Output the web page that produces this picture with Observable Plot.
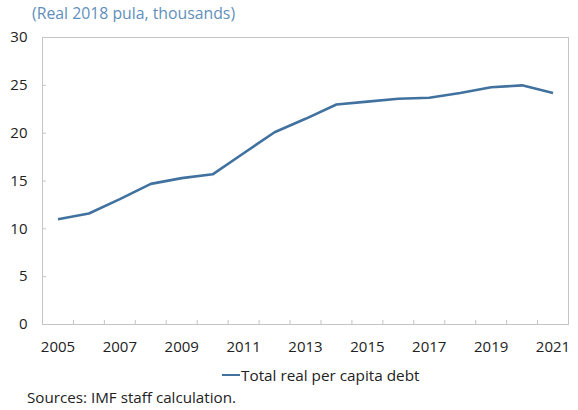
<!DOCTYPE html>
<html>
<head>
<meta charset="utf-8">
<script src="https://cdn.jsdelivr.net/npm/d3@7"></script>
<script src="https://cdn.jsdelivr.net/npm/@observablehq/plot@0.6"></script>
<style>
  body { margin: 0; background: #fff; font-family: "Open Sans", "Noto Sans", sans-serif; width: 578px; height: 410px; position: relative; overflow: hidden; }
  #subtitle { position: absolute; left: 32px; top: 2px; font-size: 15.8px; color: #5f8fbc; white-space: nowrap; }
  #chart { position: absolute; left: 0; top: 22px; }
  #legend { position: absolute; left: 222px; top: 365px; font-size: 15.3px; color: #222; display: flex; align-items: center; white-space: nowrap; }
  #legend .swatch { width: 18px; height: 2.5px; background: #41729f; margin-right: 1px; }
  #caption { position: absolute; left: 27px; top: 387px; font-size: 15.2px; color: #222; white-space: nowrap; }
</style>
</head>
<body>
<div id="subtitle">(Real 2018 pula, thousands)</div>
<div id="chart"></div>
<div id="legend"><span class="swatch"></span><span>Total real per capita debt</span></div>
<div id="caption">Sources: IMF staff calculation.</div>
<script>
const years = [2005, 2006, 2007, 2008, 2009, 2010, 2011, 2012, 2013, 2014, 2015, 2016, 2017, 2018, 2019, 2020, 2021];
const debt = [11.0, 11.6, 13.1, 14.7, 15.3, 15.7, 17.9, 20.1, 21.5, 23.0, 23.3, 23.6, 23.7, 24.2, 24.8, 25.0, 24.2];
const seriesName = "Total real per capita debt";
const xTickLabels = [2005, 2007, 2009, 2011, 2013, 2015, 2017, 2019, 2021];
const yTicks = [0, 5, 10, 15, 20, 25, 30];
const bandEdges = d3.range(years[0] - 0.5, years[years.length - 1] + 1, 1);

const data = years.map((y, i) => ({year: y, value: debt[i], series: seriesName}));

const W = 578, H = 340;
const mL = 42, mR = 10, mT = 15, mB = 38;
const frameW = W - mL - mR, frameH = H - mT - mB;
const gray = "#c4c4c4";

const chart = Plot.plot({
  width: W,
  height: H,
  marginLeft: mL,
  marginRight: mR,
  marginTop: mT,
  marginBottom: mB,
  style: {fontFamily: "'Open Sans', 'Noto Sans', sans-serif", fontSize: "15px", color: "#222", background: "#fff"},
  x: {domain: [years[0] - 0.5, years[years.length - 1] + 0.5]},
  y: {domain: [0, 30]},
  marks: [
    Plot.frame({stroke: gray}),
    Plot.tickX(bandEdges, {x: d => d, stroke: gray, insetTop: frameH - 4}),
    Plot.tickY(yTicks.slice(1, -1), {y: d => d, stroke: gray, insetRight: frameW - 4}),
    Plot.axisX({ticks: xTickLabels, tickFormat: d => String(d), tickSize: 0, tickPadding: 17, label: null, fontSize: 15}),
    Plot.axisY({ticks: yTicks, tickSize: 0, tickPadding: 15, label: null, fontSize: 15}),
    Plot.line(data, {x: "year", y: "value", stroke: "#41729f", strokeWidth: 2.6, strokeLinejoin: "round", strokeLinecap: "butt"})
  ]
});
document.getElementById("chart").appendChild(chart);
</script>
</body>
</html>
